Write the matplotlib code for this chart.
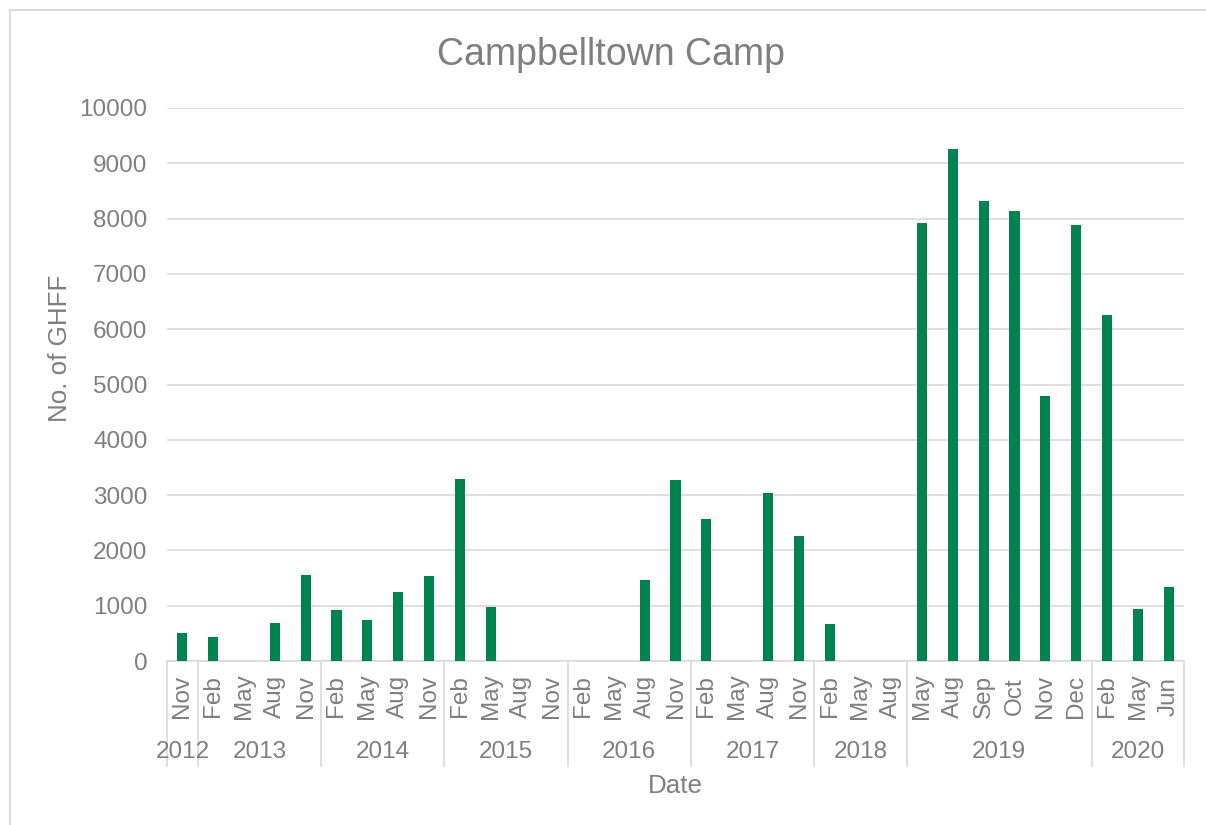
import matplotlib.pyplot as plt
from matplotlib.patches import Rectangle
import numpy as np

plt.rcParams['font.family'] = ['Liberation Sans', 'DejaVu Sans']

# category levels
years = ['2012', '2013', '2014', '2015', '2016', '2017', '2018', '2019', '2020']
months = [
    ['Nov'],
    ['Feb', 'May', 'Aug', 'Nov'],
    ['Feb', 'May', 'Aug', 'Nov'],
    ['Feb', 'May', 'Aug', 'Nov'],
    ['Feb', 'May', 'Aug', 'Nov'],
    ['Feb', 'May', 'Aug', 'Nov'],
    ['Feb', 'May', 'Aug'],
    ['May', 'Aug', 'Sep', 'Oct', 'Nov', 'Dec'],
    ['Feb', 'May', 'Jun'],
]
ghff = [500,
        440, 0, 690, 1555,
        930, 740, 1250, 1540,
        3290, 975, 0, 0,
        0, 0, 1465, 3275,
        2560, 0, 3040, 2260,
        675, 0, 0,
        7920, 9265, 8310, 8140, 4790, 7880,
        6265, 945, 1340]

GREEN = '#00834E'
GREY = '#7f7f7f'
LINE = '#d9d9d9'

W, H = 1206, 825
fig = plt.figure(figsize=(W / 100, H / 100), dpi=100)
ax = fig.add_axes([167 / W, 1 - 661 / H, (1184 - 167) / W, (661 - 108) / H])

flat_months = [m for grp in months for m in grp]
x = np.arange(len(flat_months))
ax.bar(x, ghff, width=0.33, color=GREEN, zorder=3)

ax.set_xlim(-0.5, len(flat_months) - 0.5)
ax.set_ylim(0, 10000)
ax.set_yticks(np.arange(0, 10001, 1000))
ax.grid(axis='y', color=LINE, linewidth=1.2, zorder=0)
ax.tick_params(axis='y', length=0, pad=14, labelsize=17.5, labelcolor=GREY)
ax.set_xticks([])
for s in ['left', 'right', 'top']:
    ax.spines[s].set_visible(False)
ax.spines['bottom'].set_color(LINE)
ax.spines['bottom'].set_linewidth(1.2)

trans = ax.get_xaxis_transform()
px = 1 / (661 - 108)  # one pixel in axes-fraction units

# month labels
for i, m in enumerate(flat_months):
    ax.text(i, -35 * px, m, rotation=90, ha='center', va='center',
            fontsize=17.5, color=GREY, transform=trans, clip_on=False)

# year labels and group separators
start = 0
bounds = [-0.5]
for yr, grp in zip(years, months):
    end = start + len(grp)
    ax.text((start + end - 1) / 2, -91 * px, yr, ha='center', va='center',
            fontsize=17.5, color=GREY, transform=trans, clip_on=False)
    bounds.append(end - 0.5)
    start = end
for b in bounds:
    ax.plot([b, b], [0, -105 * px], color=LINE, linewidth=1.2,
            transform=trans, clip_on=False)

fig.text(611 / W, 1 - 55 / H, 'Campbelltown Camp', ha='center', va='center',
         fontsize=27, color=GREY)
fig.text(675 / W, 1 - 786 / H, 'Date', ha='center', va='center',
         fontsize=18.7, color=GREY)
fig.text(60 / W, 1 - 348 / H, 'No. of GHFF', ha='center', va='center',
         rotation=90, fontsize=18.7, color=GREY)

# chart border
fig.add_artist(Rectangle((10 / W, -0.05), 1.0, 1 - 10 / H + 0.05,
                         transform=fig.transFigure, fill=False,
                         edgecolor=LINE, linewidth=1.5))

fig.savefig('out.png', dpi=100)
